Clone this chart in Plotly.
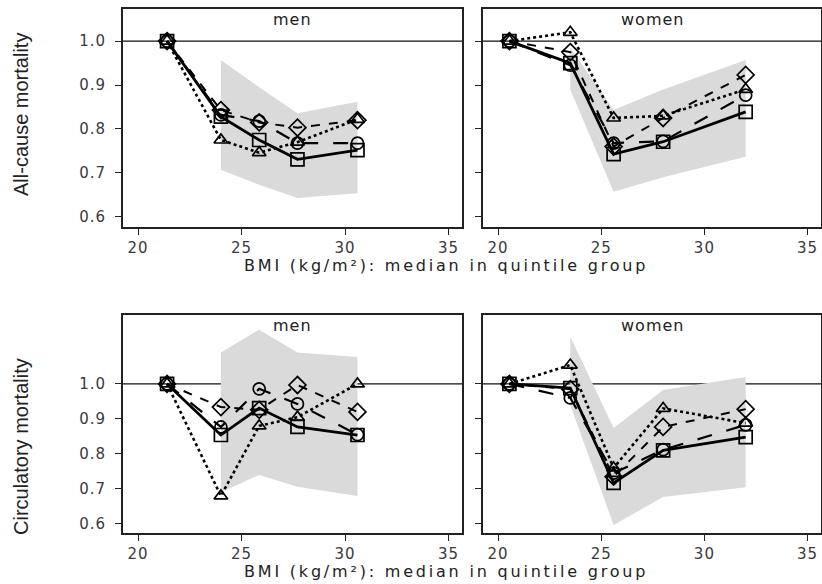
import plotly.graph_objects as go

# ---------------- data ----------------
men_bmi = [21.4, 24.0, 25.85, 27.7, 30.6]
women_bmi = [20.55, 23.5, 25.6, 28.0, 32.0]

# All-cause mortality, men
ac_men_sq = [1.0, 0.828, 0.775, 0.731, 0.752]
ac_men_ci = [1.0, 0.832, 0.818, 0.768, 0.768]
ac_men_di = [1.0, 0.843, 0.815, 0.803, 0.820]
ac_men_tr = [1.0, 0.775, 0.746, 0.770, 0.822]
ac_men_hi = [0.957, 0.895, 0.836, 0.862]
ac_men_lo = [0.707, 0.673, 0.643, 0.654]

# All-cause mortality, women
ac_wom_sq = [1.0, 0.950, 0.743, 0.771, 0.839]
ac_wom_ci = [1.0, 0.945, 0.768, 0.772, 0.877]
ac_wom_di = [1.0, 0.975, 0.760, 0.825, 0.923]
ac_wom_tr = [1.0, 1.020, 0.825, 0.830, 0.890]
ac_wom_hi = [0.985, 0.843, 0.890, 0.957]
ac_wom_lo = [0.890, 0.657, 0.690, 0.737]

# Circulatory mortality, men
ci_men_sq = [1.0, 0.854, 0.931, 0.877, 0.854]
ci_men_ci = [1.0, 0.877, 0.986, 0.943, 0.855]
ci_men_di = [1.0, 0.934, 0.926, 0.997, 0.920]
ci_men_tr = [1.0, 0.680, 0.880, 0.905, 1.000]
ci_men_hi = [1.090, 1.155, 1.090, 1.077]
ci_men_lo = [0.690, 0.740, 0.706, 0.680]

# Circulatory mortality, women
ci_wom_sq = [1.0, 0.988, 0.717, 0.810, 0.848]
ci_wom_ci = [1.0, 0.960, 0.745, 0.812, 0.883]
ci_wom_di = [1.0, 0.985, 0.735, 0.877, 0.928]
ci_wom_tr = [1.0, 1.054, 0.760, 0.930, 0.888]
ci_wom_hi = [1.135, 0.874, 0.983, 1.020]
ci_wom_lo = [0.940, 0.597, 0.677, 0.705]

x_ticks = [20, 25, 30, 35]
x_ticklabels = ["20", "25", "30", "35"]
y_ticks = [0.6, 0.7, 0.8, 0.9, 1.0]
y_ticklabels = ["0.6", "0.7", "0.8", "0.9", "1.0"]
REF = 1.0

panel_titles = ["men", "women", "men", "women"]
row_titles = ["All-cause mortality", "Circulatory mortality"]
x_title = "BMI (kg/m²): median in quintile group"

# ---------------- figure ----------------
W, H = 822, 584
fig = go.Figure()

xdom = [[123 / W, 462 / W], [483 / W, 821 / W]]
ydom = [[1 - 227 / H, 1 - 9 / H], [1 - 533 / H, 1 - 315 / H]]
yranges = [[0.577, 1.073], [0.574, 1.197]]
xrange_ = [19.27, 35.65]

panels = [
    (men_bmi, ac_men_sq, ac_men_ci, ac_men_di, ac_men_tr, ac_men_hi, ac_men_lo),
    (women_bmi, ac_wom_sq, ac_wom_ci, ac_wom_di, ac_wom_tr, ac_wom_hi, ac_wom_lo),
    (men_bmi, ci_men_sq, ci_men_ci, ci_men_di, ci_men_tr, ci_men_hi, ci_men_lo),
    (women_bmi, ci_wom_sq, ci_wom_ci, ci_wom_di, ci_wom_tr, ci_wom_hi, ci_wom_lo),
]

# order: triangle (dotted), diamond (dash), circle (long dash), square (solid)
styles = [
    ("triangle-up-open", "dot", 2.6, 12),
    ("diamond-open", "dash", 2.0, 13),
    ("circle-open", "longdash", 2.2, 12),
    ("square-open", "solid", 2.8, 13),
]

tickfont = dict(family="DejaVu Sans", size=15, color="#3a3a3a")


def spaced(t, px):
    return f'<span style="letter-spacing:{px}px">{t}</span>'


for i, (bx, sq, ci, di, tr, hi, lo) in enumerate(panels):
    row, col = divmod(i, 2)
    n = i + 1
    xa = "x" if n == 1 else f"x{n}"
    ya = "y" if n == 1 else f"y{n}"
    # CI band
    fig.add_trace(go.Scatter(x=bx[1:], y=lo, mode="lines", line=dict(width=0, color="rgba(0,0,0,0)"),
                             xaxis=xa, yaxis=ya, showlegend=False, hoverinfo="skip"))
    fig.add_trace(go.Scatter(x=bx[1:], y=hi, mode="lines", line=dict(width=0, color="rgba(0,0,0,0)"),
                             fill="tonexty", fillcolor="rgb(218,218,218)",
                             xaxis=xa, yaxis=ya, showlegend=False, hoverinfo="skip"))
    for series, (sym, dash, lw, ms) in zip([tr, di, ci, sq], styles):
        fig.add_trace(go.Scatter(
            x=bx, y=series, mode="lines+markers",
            line=dict(color="black", width=lw, dash=dash),
            marker=dict(symbol=sym, size=ms, color="black", line=dict(width=1.7, color="black")),
            xaxis=xa, yaxis=ya, showlegend=False))
    axx = dict(domain=xdom[col], range=xrange_, tickvals=x_ticks,
               ticktext=[spaced(t, 1) for t in x_ticklabels],
               ticks="outside", ticklen=6,
               tickwidth=1.3, tickcolor="#222", showline=True, linecolor="#222", linewidth=1.7,
               mirror=True, showgrid=False, zeroline=False, tickfont=tickfont, anchor=ya)
    axy = dict(domain=ydom[row], range=yranges[row], tickvals=y_ticks,
               ticktext=[spaced(t, 1) for t in y_ticklabels] if col == 0 else [""] * 5,
               ticks="outside", ticklen=6, tickwidth=1.3, tickcolor="#222",
               showline=True, linecolor="#222", linewidth=1.7, mirror=True,
               ticklabelstandoff=6,
               showgrid=False, zeroline=False, tickfont=tickfont, anchor=xa)
    fig.layout["xaxis" if n == 1 else f"xaxis{n}"] = axx
    fig.layout["yaxis" if n == 1 else f"yaxis{n}"] = axy
    fig.add_shape(type="line", xref=f"{xa} domain", yref=ya, x0=0, x1=1, y0=REF, y1=REF,
                  line=dict(color="#111", width=1.3), layer="below")
    fig.add_annotation(text=spaced(panel_titles[i], 1), xref=f"{xa} domain", yref=f"{ya} domain",
                       x=0.5, y=1, xanchor="center", yanchor="top", yshift=1, showarrow=False,
                       font=dict(family="DejaVu Sans", size=16, color="#222"))

# axis titles
for r, (ytxt, ypx, xpx) in enumerate([(row_titles[0], 115, 265), (row_titles[1], 447, 571)]):
    fig.add_annotation(text=ytxt, xref="paper", yref="paper", x=21 / W, y=1 - ypx / H,
                       xanchor="center", yanchor="middle",
                       textangle=-90, showarrow=False,
                       font=dict(family="Liberation Sans", size=20, color="#222"))
    fig.add_annotation(text=spaced(x_title, 2.8), xref="paper", yref="paper", x=446 / W, y=1 - xpx / H,
                       xanchor="center", yanchor="middle",
                       showarrow=False,
                       font=dict(family="DejaVu Sans", size=16, color="#222"))

fig.update_layout(width=W, height=H, margin=dict(l=0, r=0, t=0, b=0),
                  paper_bgcolor="white", plot_bgcolor="white")
fig.write_html("out.html")
